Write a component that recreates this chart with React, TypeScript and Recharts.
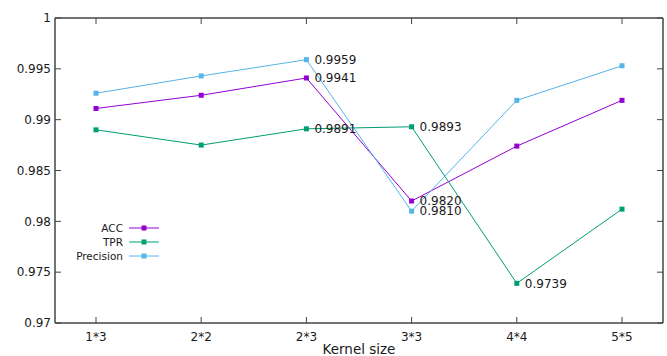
import React from 'react';
import { LineChart, Line, XAxis, YAxis, LabelList } from 'recharts';

const kernels = ['1*3', '2*2', '2*3', '3*3', '4*4', '5*5'];
const acc = [0.9911, 0.9924, 0.9941, 0.982, 0.9874, 0.9919];
const tpr = [0.989, 0.9875, 0.9891, 0.9893, 0.9739, 0.9812];
const precision = [0.9926, 0.9943, 0.9959, 0.981, 0.9919, 0.9953];
const yTicks = [0.97, 0.975, 0.98, 0.985, 0.99, 0.995, 1];

// which kernels get a value label next to the point
const accLabeled = ['2*3', '3*3'];
const tprLabeled = ['2*3', '3*3', '4*4'];
const precisionLabeled = ['2*3', '3*3'];

const series = [
  { key: 'acc', name: 'ACC', color: '#9400d3', labeled: accLabeled },
  { key: 'tpr', name: 'TPR', color: '#009e73', labeled: tprLabeled },
  { key: 'precision', name: 'Precision', color: '#56b4e9', labeled: precisionLabeled },
];

const data = kernels.map((k, i) => ({
  kernel: k,
  acc: acc[i],
  tpr: tpr[i],
  precision: precision[i],
}));

const FONT = '"DejaVu Sans", sans-serif';
const FRAME = '#444';
const TEXT = '#1a1a1a';

const squareDot = (color: string) => (props: any) => {
  const { cx, cy, index } = props;
  if (cx == null || cy == null) return <g key={`d-${index}`} />;
  return <rect key={`d-${index}`} x={cx - 2.5} y={cy - 2.5} width={5} height={5} fill={color} />;
};

const valueLabel = (labeled: string[]) => (p: any) => {
  const x = p.x ?? p.viewBox?.x;
  const y = p.y ?? p.viewBox?.y;
  if (x == null || !labeled.includes(kernels[p.index])) return null;
  return (
    <text x={x + 8} y={y} dy="0.36em" fontSize={12} fontFamily={FONT} fill={TEXT}>
      {Number(p.value).toFixed(4)}
    </text>
  );
};

const LeftTick = ({ x, y, payload }: any) => (
  <g>
    <line x1={x} x2={x + 6} y1={y} y2={y} stroke={FRAME} />
    <text x={x - 4} y={y} dy="0.36em" textAnchor="end" fontSize={12} fontFamily={FONT} fill={TEXT}>
      {payload.value}
    </text>
  </g>
);

const RightTick = ({ x, y }: any) => <line x1={x} x2={x - 6} y1={y} y2={y} stroke={FRAME} />;

const BottomTick = ({ x, y, payload }: any) => (
  <g>
    <line x1={x} x2={x} y1={y} y2={y - 6} stroke={FRAME} />
    <text x={x} y={y + 18} textAnchor="middle" fontSize={12} fontFamily={FONT} fill={TEXT}>
      {payload.value}
    </text>
  </g>
);

const TopTick = ({ x, y }: any) => <line x1={x} x2={x} y1={y} y2={y + 6} stroke={FRAME} />;

// key box drawn over the plot, like the gnuplot one
const KeyBox = () => (
  <svg width={95} height={45} style={{ position: 'absolute', left: 70, top: 220 }}>
    {series.map((s, i) => (
      <g key={s.key}>
        <text x={53} y={8 + i * 14} dy="0.36em" textAnchor="end" fontSize={10.5} fontFamily={FONT} fill={TEXT}>
          {s.name}
        </text>
        <line x1={59} x2={89} y1={8 + i * 14} y2={8 + i * 14} stroke={s.color} strokeWidth={1} />
        <rect x={71.5} y={5.5 + i * 14} width={5} height={5} fill={s.color} />
      </g>
    ))}
  </svg>
);

export default function App() {
  return (
    <div style={{ position: 'absolute', left: 0, top: 0, width: 667, height: 356, background: '#fff' }}>
      <LineChart width={667} height={356} data={data} margin={{ top: 17, right: 3, bottom: 0, left: 0 }}>
        <XAxis
          dataKey="kernel"
          height={33}
          interval={0}
          padding={{ left: 41, right: 41 }}
          tickSize={0}
          tickMargin={0}
          tickLine={false}
          axisLine={{ stroke: FRAME, strokeWidth: 1.5 }}
          tick={<BottomTick />}
          label={{ value: 'Kernel size', position: 'insideBottom', offset: 2, fontSize: 13.5, fontFamily: FONT, fill: TEXT }}
        />
        <XAxis
          xAxisId="top"
          orientation="top"
          dataKey="kernel"
          height={1}
          interval={0}
          padding={{ left: 41, right: 41 }}
          tickSize={0}
          tickMargin={0}
          tickLine={false}
          axisLine={{ stroke: FRAME, strokeWidth: 1.5 }}
          tick={<TopTick />}
        />
        <YAxis
          width={55}
          type="number"
          domain={[0.97, 1]}
          ticks={yTicks}
          interval={0}
          allowDataOverflow
          tickSize={0}
          tickMargin={0}
          tickLine={false}
          axisLine={{ stroke: FRAME, strokeWidth: 1.5 }}
          tick={<LeftTick />}
        />
        <YAxis
          yAxisId="right"
          orientation="right"
          width={1}
          type="number"
          domain={[0.97, 1]}
          ticks={yTicks}
          interval={0}
          allowDataOverflow
          tickSize={0}
          tickMargin={0}
          tickLine={false}
          axisLine={{ stroke: FRAME, strokeWidth: 1.5 }}
          tick={<RightTick />}
        />
        {series.map((s) => (
          <Line
            key={s.key}
            dataKey={s.key}
            name={s.name}
            type="linear"
            stroke={s.color}
            strokeWidth={1}
            dot={squareDot(s.color)}
            activeDot={false}
            isAnimationActive={false}
          >
            <LabelList dataKey={s.key} content={valueLabel(s.labeled)} />
          </Line>
        ))}
      </LineChart>
      <KeyBox />
    </div>
  );
}
